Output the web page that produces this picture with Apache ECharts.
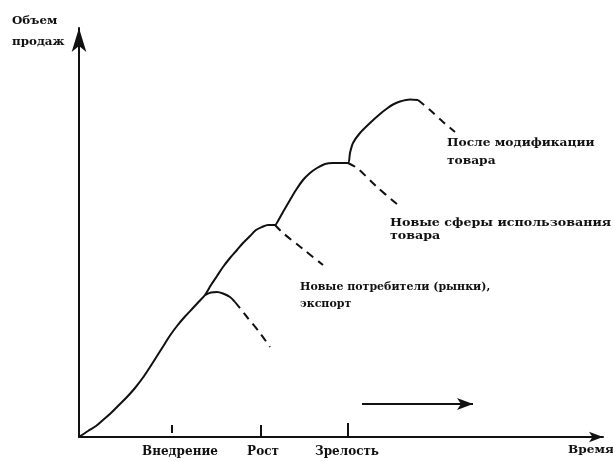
<!DOCTYPE html>
<html>
<head>
<meta charset="utf-8">
<title>Жизненный цикл товара</title>
<script src="https://cdn.jsdelivr.net/npm/echarts@6/dist/echarts.min.js"></script>
<style>
  html, body { margin: 0; padding: 0; background: #fff; }
  #chart { width: 613px; height: 462px; }
</style>
</head>
<body>
<div id="chart"></div>
<script>
// Main sales-volume curve (solid), time vs volume
const mainX = [
  0, 1.8, 3.4, 4.8, 6.4, 8.0, 9.6, 11.2, 12.8, 14.2, 15.6, 17.0, 18.2, 19.6, 21.2, 22.8, 24.0, 25.2,
  26.4, 27.6, 28.8, 30.2, 31.6, 32.8, 34.2, 35.4, 36.6, 37.8, 39.2,
  39.8, 40.8, 42.2, 43.4, 44.8, 46.2, 47.6, 49.2, 50.8, 52.4, 53.8,
  54.2, 54.8, 56.2, 58.2, 60.2, 61.6, 62.8, 64.2, 66.2, 67.8
];
const mainY = [
  0, 1.2, 2.2, 3.4, 4.8, 6.4, 8.0, 9.8, 11.9, 14.0, 16.2, 18.4, 20.3, 22.2, 24.1, 25.8, 27.1, 28.4,
  30.4, 32.2, 34.0, 35.8, 37.4, 38.8, 40.2, 41.4, 42.0, 42.4, 42.4,
  43.2, 45.0, 47.4, 49.4, 51.4, 52.8, 53.8, 54.6, 54.8, 54.8, 54.8,
  56.8, 58.8, 60.8, 62.8, 64.6, 65.7, 66.5, 67.1, 67.5, 67.4
];

// Decline after the first peak: short solid crest then dashed fall
const crest1X = [25.2, 26.4, 27.6, 28.8, 30.2, 31.2];
const crest1Y = [28.4, 28.9, 29.0, 28.7, 28.0, 27.0];
const fall1X = [31.2, 33.6, 36.2, 38.2];
const fall1Y = [27.0, 24.0, 20.8, 18.0];

// Declines after the second and third peaks and the final one (dashed)
const fall2X = [39.2, 40.8, 44.8, 48.8];
const fall2Y = [42.4, 40.8, 37.6, 34.4];
const fall3X = [53.8, 55.6, 59.6, 63.8];
const fall3Y = [54.8, 53.8, 50.0, 46.4];
const fall4X = [67.8, 70.2, 72.6, 75.2];
const fall4Y = [67.4, 65.4, 63.2, 61.0];

// Stage boundaries on the time axis: position, lower and upper end of the mark
const stageTickX = [18.6, 36.4, 53.8];
const stageTickLo = [0.8, 0.2, 0.2];
const stageTickHi = [2.4, 2.4, 2.8];

// Stage names under the time axis
const stageLabelX = [20.2, 36.8, 53.6];
const stageNames = ['Внедрение', 'Рост', 'Зрелость'];

// Time arrow near the axis
const timeArrowX = [56.6, 78.8];
const timeArrowY = [6.6, 6.6];

// Extension notes
const notes = [
  'После модификации\nтовара',
  'Новые сферы использования\nтовара',
  'Новые потребители (рынки),\nэкспорт'
];

const INK = '#111';
const FONT = 'DejaVu Serif';

const zip = (xs, ys) => xs.map((x, i) => [x, ys[i]]);

function lineSeries(xs, ys, dashed) {
  return {
    type: 'line',
    data: zip(xs, ys),
    smooth: 0.3,
    symbol: 'none',
    silent: true,
    lineStyle: { color: INK, width: 2, type: dashed ? [8, 6] : 'solid', cap: 'butt', join: 'round' },
    z: 3
  };
}

function textEl(text, x, y, size, scaleX, lineHeight) {
  return {
    type: 'text',
    x: x,
    y: y,
    scaleX: scaleX,
    style: {
      text: text,
      fill: INK,
      font: 'bold ' + size + 'px "' + FONT + '"',
      lineHeight: lineHeight || size + 4,
      textVerticalAlign: 'top'
    }
  };
}

const chart = echarts.init(document.getElementById('chart'), null, { renderer: 'canvas' });

chart.setOption({
  backgroundColor: '#fff',
  animation: false,
  grid: { left: 79, top: 28, width: 524, height: 409, containLabel: false },
  xAxis: {
    type: 'value',
    min: 0,
    max: 104.8,
    splitLine: { show: false },
    axisTick: { show: false },
    axisLine: {
      onZero: false,
      lineStyle: { color: INK, width: 2 },
      symbol: ['none', 'arrow'],
      symbolSize: [8, 14]
    },
    axisLabel: {
      customValues: stageLabelX,
      formatter: function (v) {
        const i = stageLabelX.indexOf(v);
        return i >= 0 ? stageNames[i] : '';
      },
      color: INK,
      fontFamily: FONT,
      fontWeight: 'bold',
      fontSize: 12,
      margin: 9
    }
  },
  yAxis: {
    type: 'value',
    min: 0,
    max: 81.8,
    splitLine: { show: false },
    axisTick: { show: false },
    axisLabel: { show: false },
    axisLine: {
      onZero: false,
      lineStyle: { color: INK, width: 2 },
      symbol: ['none', 'arrow'],
      symbolSize: [11, 24]
    }
  },
  graphic: [
    textEl('Объем\nпродаж', 12, 11, 11, 1.08, 21),
    textEl('Время', 568, 443, 11, 1.1),
    textEl(notes[0], 447, 134, 11, 1.11, 18),
    textEl(notes[1], 390, 217, 11, 1.15, 13),
    textEl(notes[2], 300, 279, 11, 1.0, 17)
  ],
  series: [
    lineSeries(mainX, mainY, false),
    lineSeries(crest1X, crest1Y, false),
    lineSeries(fall1X, fall1Y, true),
    lineSeries(fall2X, fall2Y, true),
    lineSeries(fall3X, fall3Y, true),
    lineSeries(fall4X, fall4Y, true),
    {
      type: 'line',
      data: zip(timeArrowX, timeArrowY),
      symbol: 'none',
      silent: true,
      lineStyle: { color: INK, width: 2 },
      markLine: {
        silent: true,
        symbol: ['none', 'arrow'],
        symbolSize: [9, 16],
        label: { show: false },
        lineStyle: { color: INK, width: 2, type: 'solid' },
        data: [[{ coord: [timeArrowX[0], timeArrowY[0]] }, { coord: [timeArrowX[1], timeArrowY[1]] }]]
      }
    },
    {
      type: 'custom',
      silent: true,
      data: stageTickX.map((x, i) => [x, stageTickLo[i], stageTickHi[i]]),
      renderItem: function (params, api) {
        const a = api.coord([api.value(0), api.value(1)]);
        const b = api.coord([api.value(0), api.value(2)]);
        return {
          type: 'line',
          shape: { x1: a[0], y1: a[1], x2: b[0], y2: b[1] },
          style: { stroke: INK, lineWidth: 2 }
        };
      }
    }
  ]
});
</script>
</body>
</html>
